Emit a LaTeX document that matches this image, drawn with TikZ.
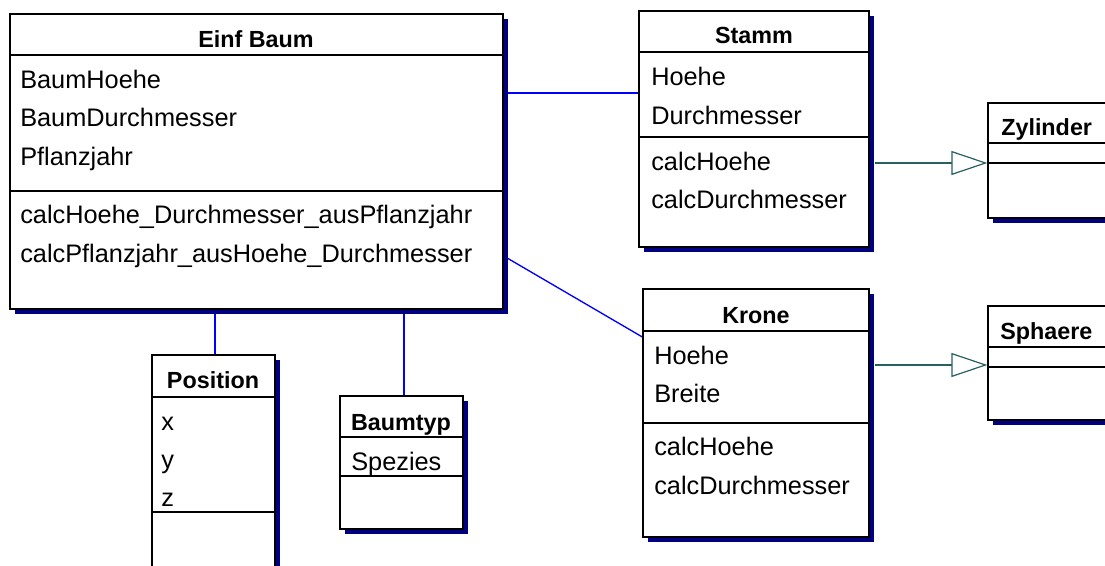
\documentclass[tikz,border=0pt]{standalone}
\usepackage{fontspec}
\setmainfont{Liberation Sans}
\usetikzlibrary{arrows.meta,fit,shadows,backgrounds}
\definecolor{shadowblue}{RGB}{0,0,128}
\definecolor{linkblue}{RGB}{0,0,255}
\definecolor{inhgreen}{RGB}{40,96,96}

\begin{document}
\begin{tikzpicture}[x=0.75pt,y=-0.75pt,
    classbox/.style={draw=black,line width=1pt,fill=white,inner sep=0pt,
      drop shadow={shadow xshift=3.75pt,shadow yshift=-3.75pt,fill=shadowblue,opacity=1}},
    classtitle/.style={anchor=base,inner sep=0pt,font=\fontsize{17.5}{20}\selectfont\bfseries},
    classentry/.style={anchor=base west,inner sep=0pt,font=\fontsize{19}{22}\selectfont},
    sepline/.style={draw=black,line width=1pt},
    assoc/.style={linkblue,line width=1pt},
    inherit/.style={inhgreen,line width=0.9pt,-{Triangle[open,fill=white,length=27pt,width=18pt]}}]
      \useasboundingbox (0,0) rectangle (1105,566);
      \clip (0,0) rectangle (1105,566);

      % Einf Baum
      \node[classbox,fit={(10,14) (503,309)}] (baum) {};
      \draw[sepline] (baum.west |- 0,55) -- (baum.east |- 0,55)
        (baum.west |- 0,191) -- (baum.east |- 0,191);
      \node[classtitle] (baumT) at (256,48) {Einf Baum};
      \begin{scope}[classentry]
        \node (baumA1) at (20,89) {BaumHoehe};
        \node (baumA2) at (20,127) {BaumDurchmesser};
        \node (baumA3) at (20,166) {Pflanzjahr};
        \node (baumM1) at (20,224) {calcHoehe\_Durchmesser\_ausPflanzjahr};
        \node (baumM2) at (20,263) {calcPflanzjahr\_ausHoehe\_Durchmesser};
      \end{scope}

      % Stamm
      \node[classbox,fit={(639,11) (869,247)}] (stamm) {};
      \draw[sepline] (stamm.west |- 0,52) -- (stamm.east |- 0,52)
        (stamm.west |- 0,137) -- (stamm.east |- 0,137);
      \node[classtitle] (stammT) at (754,44) {Stamm};
      \begin{scope}[classentry]
        \node (stammA1) at (651,86) {Hoehe};
        \node (stammA2) at (651,125) {Durchmesser};
        \node (stammM1) at (651,171) {calcHoehe};
        \node (stammM2) at (651,209) {calcDurchmesser};
      \end{scope}

      % Krone
      \node[classbox,fit={(643,289) (869,537)}] (krone) {};
      \draw[sepline] (krone.west |- 0,331) -- (krone.east |- 0,331)
        (krone.west |- 0,423) -- (krone.east |- 0,423);
      \node[classtitle] (kroneT) at (756,323) {Krone};
      \begin{scope}[classentry]
        \node (kroneA1) at (654,364) {Hoehe};
        \node (kroneA2) at (654,402) {Breite};
        \node (kroneM1) at (654,455) {calcHoehe};
        \node (kroneM2) at (654,494) {calcDurchmesser};
      \end{scope}

      % Zylinder, Sphaere
      \node[classbox,fit={(988,103) (1130,218)}] (zyl) {};
      \draw[sepline] (zyl.west |- 0,143) -- (zyl.east |- 0,143)
        (zyl.west |- 0,163) -- (zyl.east |- 0,163);
      \node[classtitle,anchor=base west] (zylT) at (1001,136) {Zylinder};
      \node[classbox,fit={(988,306) (1130,420)}] (sph) {};
      \draw[sepline] (sph.west |- 0,347) -- (sph.east |- 0,347)
        (sph.west |- 0,367) -- (sph.east |- 0,367);
      \node[classtitle,anchor=base west] (sphT) at (1000,339) {Sphaere};

      % Position
      \node[classbox,fit={(152,355) (275,590)}] (pos) {};
      \draw[sepline] (pos.west |- 0,397) -- (pos.east |- 0,397)
        (pos.west |- 0,512) -- (pos.east |- 0,512);
      \node[classtitle] (posT) at (213,388) {Position};
      \begin{scope}[classentry]
        \node (posX) at (161,430) {x};
        \node (posY) at (161,468) {y};
        \node (posZ) at (161,506) {z};
      \end{scope}

      % Baumtyp
      \node[classbox,fit={(340,396) (463,529)}] (typ) {};
      \draw[sepline] (typ.west |- 0,437) -- (typ.east |- 0,437)
        (typ.west |- 0,476) -- (typ.east |- 0,476);
      \node[classtitle] (typT) at (401,430) {Baumtyp};
      \node[classentry] (typA1) at (351,470) {Spezies};

      \begin{scope}[on background layer]
        \draw[assoc] (baum.east |- 0,93) -- (stamm.west |- 0,93);
        \draw[assoc] (baum.east |- 0,256) -- (krone.west |- 0,337);
        \draw[assoc] (baum.south -| 215,0) -- (pos.north -| 215,0);
        \draw[assoc] (baum.south -| 404,0) -- (typ.north -| 404,0);
      \end{scope}
      \draw[inherit] (stamm.east |- 0,163) ++(5,0) -- (zyl.west |- 0,163);
      \draw[inherit] (krone.east |- 0,365) ++(5,0) -- (sph.west |- 0,365);
    \end{tikzpicture}
\end{document}
